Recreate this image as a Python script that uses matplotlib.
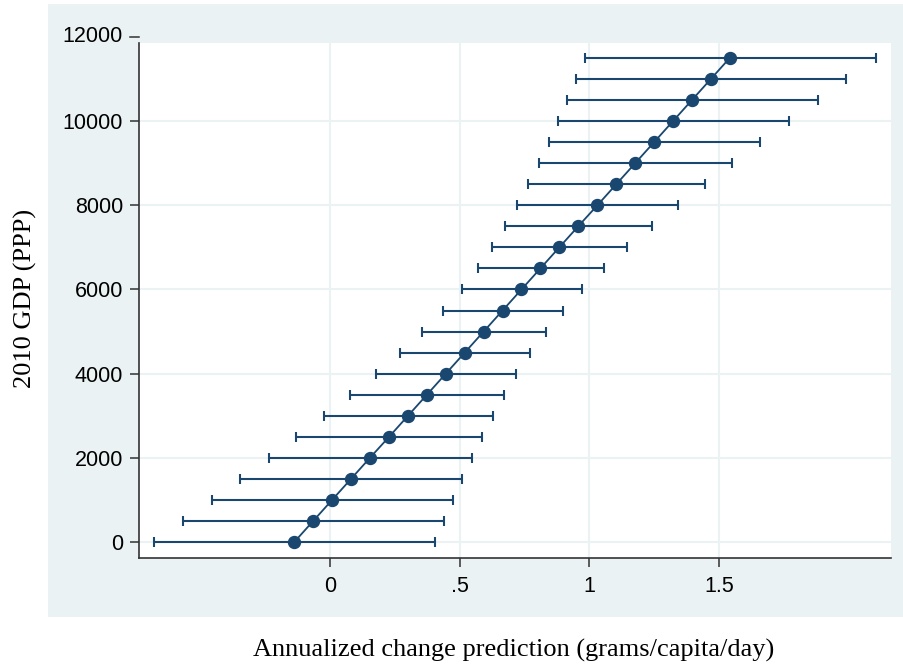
import matplotlib.pyplot as plt
import matplotlib.patches as patches

# GDP levels (y) and predicted annualized change with CI (x)
gdp = [0, 500, 1000, 1500, 2000, 2500, 3000, 3500, 4000, 4500, 5000, 5500,
       6000, 6500, 7000, 7500, 8000, 8500, 9000, 9500, 10000, 10500, 11000, 11500]
pred = [-0.139, -0.066, 0.007, 0.080, 0.153, 0.227, 0.300, 0.373, 0.446, 0.519,
        0.592, 0.665, 0.738, 0.811, 0.884, 0.957, 1.031, 1.104, 1.177, 1.250,
        1.323, 1.396, 1.469, 1.542]
lower = [-0.680, -0.568, -0.456, -0.346, -0.236, -0.130, -0.024, 0.077, 0.177, 0.271,
         0.356, 0.436, 0.508, 0.571, 0.626, 0.676, 0.722, 0.765, 0.805, 0.843,
         0.879, 0.914, 0.949, 0.982]
upper = [0.406, 0.440, 0.473, 0.510, 0.546, 0.586, 0.627, 0.671, 0.718, 0.771,
         0.832, 0.897, 0.973, 1.057, 1.145, 1.241, 1.342, 1.445, 1.551, 1.659,
         1.770, 1.881, 1.991, 2.105]

xticks = [0, 0.5, 1, 1.5]
xticklabels = ['0', '.5', '1', '1.5']
yticks = [0, 2000, 4000, 6000, 8000, 10000]

navy = '#1a476f'
bg = '#eaf2f3'
W, H = 904, 665

fig = plt.figure(figsize=(W / 100, H / 100), dpi=100)
# Stata-style graph region
fig.patches.append(patches.Rectangle((48 / W, 1 - 617 / H), (W - 48) / W, (617 - 4) / H,
                                     transform=fig.transFigure, facecolor=bg,
                                     edgecolor='none', zorder=-5))

ax = fig.add_axes([139 / W, 1 - 557.7 / H, (890.7 - 139) / W, (557.7 - 43) / H])
ax.set_zorder(2)
ax.set_facecolor('white')

xerr = [[p - l for p, l in zip(pred, lower)], [u - p for p, u in zip(pred, upper)]]
ax.errorbar(pred, gdp, xerr=xerr, fmt='none', ecolor=navy, elinewidth=1.5,
            capsize=3.8, capthick=1.5, zorder=3)
ax.plot(pred, gdp, color=navy, lw=1.3, marker='o', markersize=8.6,
        markerfacecolor=navy, markeredgecolor=navy, zorder=4)

ax.set_xlim(-0.737, 2.162)
ax.set_ylim(-366, 11850)
ax.set_xticks(xticks)
ax.set_xticklabels(xticklabels)
ax.set_yticks(yticks)
ax.grid(True, color=bg, lw=1.5, zorder=0)
ax.set_axisbelow(True)

for s in ['top', 'right']:
    ax.spines[s].set_visible(False)
for s in ['left', 'bottom']:
    ax.spines[s].set_color('#333333')
    ax.spines[s].set_linewidth(1.2)

ax.tick_params(axis='both', colors='#333333', labelcolor='black', length=6.5,
               width=1.1, labelsize=15.5)
ax.tick_params(axis='x', pad=7)
ax.tick_params(axis='y', pad=5)
for lab in ax.get_xticklabels() + ax.get_yticklabels():
    lab.set_family('Liberation Sans')

# the 12000 tick sits above the plot region
y12 = 1 - 37 / H
fig.add_artist(plt.Line2D([130 / W, 139 / W], [y12, y12], transform=fig.transFigure,
                          color='#333333', lw=1.1, zorder=3))
fig.text(123 / W, y12, '12000', ha='right', va='center', fontsize=15.5,
         family='Liberation Sans', zorder=3)

fig.text(514 / W, 1 - 650 / H, 'Annualized change prediction (grams/capita/day)',
         ha='center', va='center', fontsize=19, family='Liberation Serif')
fig.text(25 / W, 1 - 298 / H, '2010 GDP (PPP)', rotation=90, ha='center', va='center',
         fontsize=19, family='Liberation Serif')

fig.savefig('out.png', dpi=100)
